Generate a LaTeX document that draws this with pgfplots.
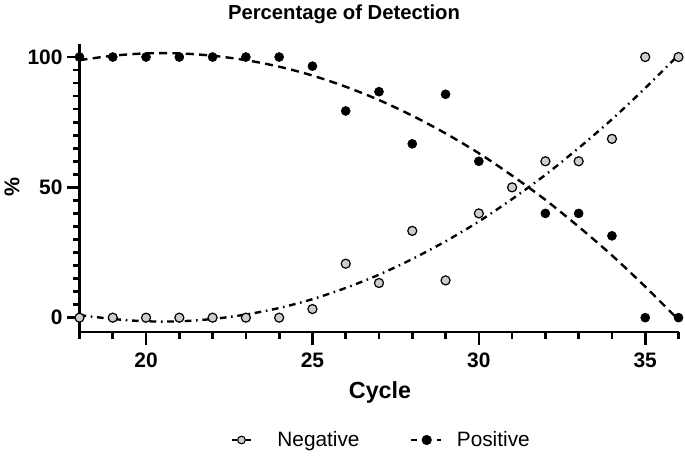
\documentclass[border=0pt]{standalone}
\usepackage{pgfplots}
\pgfplotsset{compat=1.18}
\usepackage{fontspec}
\setmainfont{Liberation Sans}

\definecolor{neggray}{RGB}{205,205,205}

\begin{document}
\begin{tikzpicture}
\useasboundingbox (-59.625pt,-93pt) rectangle (454.125pt,249pt);
\begin{axis}[
  at={(0,0)}, anchor=south west,
  scale only axis,
  width=449.25pt, height=216pt,
  xmin=18, xmax=36, ymin=-5.5, ymax=105,
  axis x line*=bottom, axis y line*=left,
  axis line style={line width=2.2pt, -},
  xtick={20,25,30,35}, minor xtick={18,19,...,36},
  ytick={0,50,100}, minor ytick={0,5,...,100},
  tick align=outside,
  major tick length=9.5pt, minor tick length=5pt,
  tick style={line width=2pt, black},
  ticklabel style={font=\bfseries\fontsize{15.7}{15.7}\selectfont, inner sep=0pt},
  xticklabel style={yshift=-6.25pt},
  yticklabel style={xshift=-3.1pt},
  /pgf/number format/assume math mode=true,
  clip=false,
  legend style={at={(0.2524,-0.375)}, anchor=west, draw=none, inner sep=0pt,
    font=\fontsize{15.6}{15.6}\selectfont,
    nodes={inner sep=0pt},
    /tikz/every odd column/.append style={column sep=11.25pt},
    /tikz/every even column/.append style={column sep=37.5pt}},
  legend columns=2,
  legend cell align=left,
]
% fitted curves
\addplot[black, line width=1.8pt, dash pattern=on 5pt off 3.5pt on 1.2pt off 3.5pt, smooth, forget plot] coordinates {
  (18,1.0) (19,-0.5) (20,-1.4) (21,-1.4) (22,-0.5) (23,1.2) (24,3.7) (25,7.1)
  (26,11.4) (27,16.5) (28,22.5) (29,29.3) (30,36.9) (31,45.5) (32,54.8)
  (33,65.1) (34,76.1) (35,88.1) (36,100.8)
};
\addplot[black, line width=1.8pt, dash pattern=on 6pt off 4pt, smooth, forget plot] coordinates {
  (18,98.8) (19,100.5) (20,101.4) (21,101.4) (22,100.5) (23,98.8) (24,96.3)
  (25,92.9) (26,88.6) (27,83.5) (28,77.5) (29,70.7) (30,63.1) (31,54.5)
  (32,45.2) (33,34.9) (34,23.9) (35,11.9) (36,-0.8)
};
% positive points
\addplot[only marks, mark=*, mark size=3.4pt, black, forget plot] coordinates {
  (18,100) (19,100) (20,100) (21,100) (22,100) (23,100) (24,100) (25,96.5)
  (26,79.3) (27,86.7) (28,66.7) (29,85.7) (30,60) (32,40) (33,40) (34,31.4)
  (35,0) (36,0)
};
% negative points
\addplot[only marks, mark=*, mark size=3.4pt, mark options={fill=neggray, draw=black, line width=0.9pt}, forget plot] coordinates {
  (18,0) (19,0) (20,0) (21,0) (22,0) (23,0) (24,0) (25,3.3)
  (26,20.7) (27,13.3) (28,33.3) (29,14.3) (30,40) (31,50) (32,60) (33,60)
  (34,68.6) (35,100) (36,100)
};
\addlegendimage{legend image code/.code={
    \draw[black, line width=1.8pt, dash pattern=on 3.5pt off 6.5pt on 4pt]
      (0pt,0pt) -- (14pt,0pt);
    \draw[black, fill=neggray, line width=0.8pt] (7pt,0pt) circle (2.9pt);
    \path (22.5pt,0pt);}}
\addlegendentry{Negative}
\addlegendimage{legend image code/.code={
    \draw[black, line width=1.8pt, dash pattern=on 5pt off 15pt on 2.5pt]
      (0pt,0pt) -- (22.5pt,0pt);
    \fill[black] (12pt,0pt) circle (3.6pt);}}
\addlegendentry{Positive}
\end{axis}
\node[font=\bfseries\fontsize{15.2}{15.2}\selectfont] at (198.4pt,238.5pt) {Percentage of Detection};
\node[font=\bfseries\fontsize{17.5}{17.5}\selectfont] at (225.4pt,-45pt) {Cycle};
\node[font=\bfseries\fontsize{16}{16}\selectfont, rotate=90] at (-50.6pt,108.75pt) {\%};
\end{tikzpicture}
\end{document}
